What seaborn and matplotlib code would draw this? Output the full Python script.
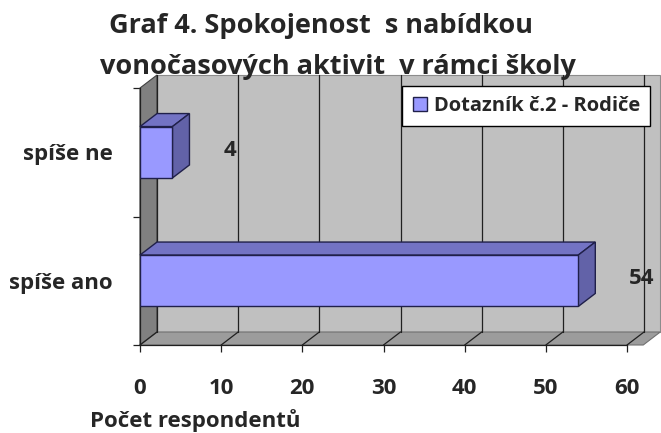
import pandas as pd
import seaborn as sns
import matplotlib.pyplot as plt
from matplotlib.patches import Polygon

# data
categories = ["spíše ne", "spíše ano"]
values = [4, 54]
series_name = "Dotazník č.2 - Rodiče"
x_ticks = [0, 10, 20, 30, 40, 50, 60]
title_lines = ["Graf 4. Spokojenost  s nabídkou", "vonočasových aktivit  v rámci školy"]
x_label = "Počet respondentů"

df = pd.DataFrame({"odpoved": categories, "pocet": values})

sns.set_theme(style="white")
plt.rcParams["font.family"] = ["Open Sans", "DejaVu Sans"]
plt.rcParams["font.weight"] = "bold"

W, H = 661, 433
fig = plt.figure(figsize=(W / 100, H / 100), dpi=100)
ax = fig.add_axes([140 / W, 88 / H, 487 / W, 257 / H])
ax.set_facecolor("none")

front, top, side, edge = "#9999ff", "#7373c4", "#6262a8", "#20204a"

sns.barplot(data=df, y="odpoved", x="pocet", orient="h", width=0.4,
            color=front, saturation=1, edgecolor=edge, linewidth=1,
            label=series_name, ax=ax, zorder=5)
bars = list(ax.containers[0])

ax.set_xlim(0, 60)
ax.set_ylim(1.5, -0.5)

# depth of the fake 3d box (17 px right, 13 px up)
dx = 17 / 487 * 60
dy = 13 / 257 * 2
xr = 62

# walls and floor
ax.add_patch(Polygon([(dx, -0.5 - dy), (xr + dx, -0.5 - dy), (xr + dx, 1.5 - dy), (dx, 1.5 - dy)],
                     closed=True, fc="#c0c0c0", ec="#8c8c8c", lw=0.8, zorder=0.5, clip_on=False))
ax.add_patch(Polygon([(0, -0.5), (dx, -0.5 - dy), (dx, 1.5 - dy), (0, 1.5)],
                     closed=True, fc="#808080", ec="#404040", lw=0.8, zorder=0.6, clip_on=False))
ax.add_patch(Polygon([(0, 1.5), (xr, 1.5), (xr + dx, 1.5 - dy), (dx, 1.5 - dy)],
                     closed=True, fc="#9c9c9c", ec="#707070", lw=0.8, zorder=0.6, clip_on=False))
for t in x_ticks:
    ax.plot([t + dx, t + dx], [1.5 - dy, -0.5 - dy], color="#202020", lw=0.9, zorder=1, clip_on=False)
    ax.plot([t, t + dx], [1.5, 1.5 - dy], color="#202020", lw=0.9, zorder=1, clip_on=False)

# top and side faces of the bars
for b in bars:
    x0, y0 = b.get_x(), b.get_y()
    x1, y1 = x0 + b.get_width(), y0 + b.get_height()
    yt, yb = min(y0, y1), max(y0, y1)
    ax.add_patch(Polygon([(x0, yt), (x0 + dx, yt - dy), (x1 + dx, yt - dy), (x1, yt)],
                         closed=True, fc=top, ec=edge, lw=1, zorder=4, clip_on=False))
    ax.add_patch(Polygon([(x1, yt), (x1 + dx, yt - dy), (x1 + dx, yb - dy), (x1, yb)],
                         closed=True, fc=side, ec=edge, lw=1, zorder=4, clip_on=False))

for i, v in enumerate(values):
    ax.annotate(str(v), xy=(v, i), xytext=(51, 2), textcoords="offset pixels",
                ha="left", va="center", fontsize=16, fontweight="bold", annotation_clip=False)

# axes, ticks
for s in ["top", "right"]:
    ax.spines[s].set_visible(False)
for s in ["left", "bottom"]:
    ax.spines[s].set_color("#202020")
    ax.spines[s].set_linewidth(0.9)

ax.set_xticks(x_ticks)
ax.set_xticklabels([str(t) for t in x_ticks], fontsize=16, fontweight="bold")
ax.tick_params(axis="x", direction="out", length=5, width=0.9, color="#202020", pad=18.5, bottom=True)
ax.set_yticks([0, 1])
ax.set_yticklabels(categories, fontsize=16, fontweight="bold")
ax.set_yticks([-0.5, 0.5, 1.5], minor=True)
ax.tick_params(axis="y", which="major", length=0, pad=19.5)
ax.tick_params(axis="y", which="minor", direction="out", length=5, width=0.9, color="#202020", left=True)
ax.set_xlabel("")
ax.set_ylabel("")

fig.text(90 / W, 1 - 427 / H, x_label, ha="left", va="baseline", fontsize=16, fontweight="bold")
fig.text(321 / W, 1 - 33 / H, title_lines[0], ha="center", va="baseline", fontsize=19.5, fontweight="bold")
fig.text(338 / W, 1 - 74 / H, title_lines[1], ha="center", va="baseline", fontsize=19.5, fontweight="bold")

leg = ax.legend(loc="upper right", bbox_to_anchor=(650 / W, 1 - 86 / H), bbox_transform=fig.transFigure,
                frameon=True, fancybox=False, framealpha=1, facecolor="white", edgecolor="black",
                prop={"size": 14.5, "weight": "bold"}, handlelength=0.7, handleheight=0.7,
                handletextpad=0.35, borderpad=0.5, borderaxespad=0)
leg.get_frame().set_linewidth(1)
leg.set_zorder(10)

fig.savefig("out.png", dpi=100)
